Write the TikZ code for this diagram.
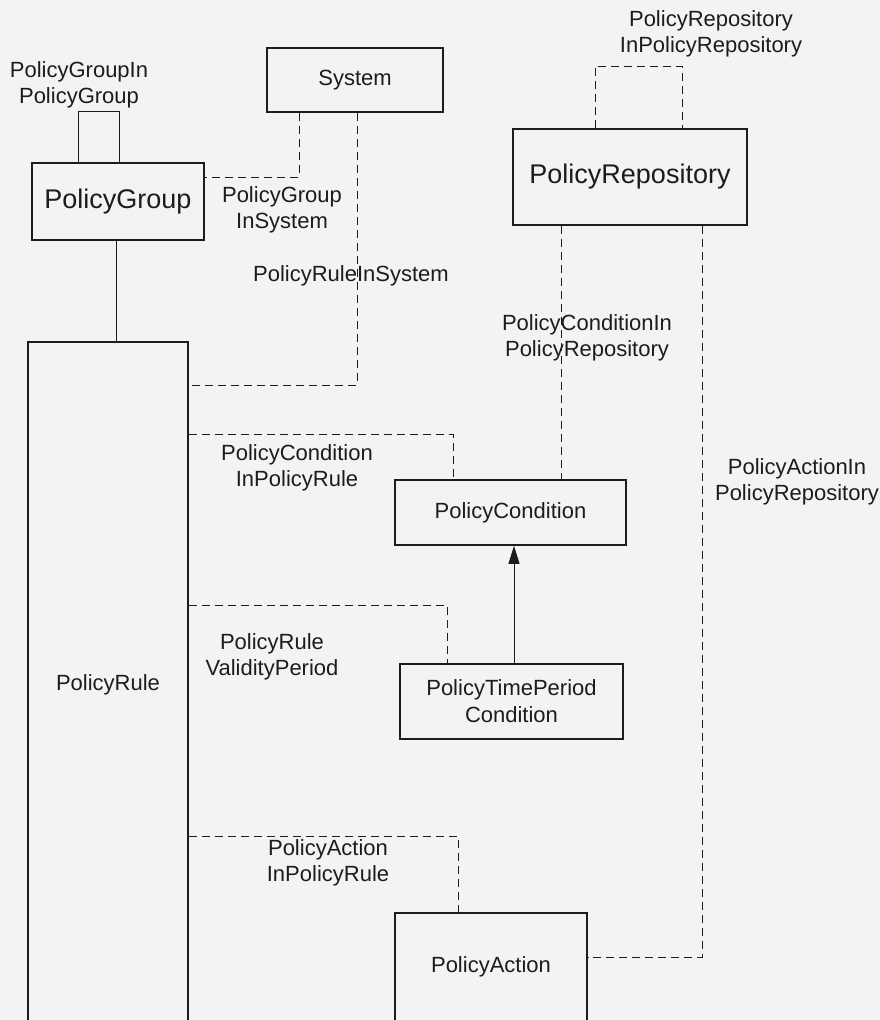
\documentclass[tikz,border=0pt]{standalone}
\usepackage{fontspec}
\setmainfont{Liberation Sans}
\usetikzlibrary{arrows.meta}
\definecolor{paper}{RGB}{242,243,245}
\definecolor{ink}{RGB}{28,28,28}
\begin{document}
\begin{tikzpicture}[x=1pt,y=-1pt,
  cls/.style={draw=ink, line width=1.7pt, inner sep=0pt, text=ink, align=center,
    font=\fontsize{22}{27}\selectfont},
  bigcls/.style={cls, font=\fontsize{27}{32}\selectfont},
  lbl/.style={text=ink, align=center, inner sep=0pt, font=\fontsize{22}{26}\selectfont},
  assoc/.style={draw=ink, line width=0.9pt, dash pattern=on 8pt off 5pt},
  solidlink/.style={draw=ink, line width=0.9pt},
  inherit/.style={draw=ink, line width=0.9pt, -{Triangle[length=18pt,width=11pt]}}]

% page
\fill[paper] (0,0) rectangle (880,1020);
\useasboundingbox (0,0) rectangle (880,1020);
\clip (0,0) rectangle (880,1020);

% classes
\node[cls, minimum width=176pt, minimum height=64pt] (sys) at (355,80) {System};
\node[bigcls, minimum width=172pt, minimum height=77pt] (grp) at (118,201.5) {PolicyGroup};
\node[bigcls, minimum width=234pt, minimum height=96pt] (repo) at (630,177) {PolicyRepository};
\node[cls, minimum width=160pt, minimum height=686pt] (rule) at (108,685) {PolicyRule};
\node[cls, minimum width=231pt, minimum height=65pt] (cond) at (510.5,512.5) {PolicyCondition};
\node[cls, minimum width=223pt, minimum height=75pt] (tpc) at (511.5,701.5) {PolicyTimePeriod\\Condition};
\node[cls, minimum width=192pt, minimum height=108pt] (act) at (491,967) {PolicyAction};

% bend points of the connectors
\coordinate (l1) at (78,111);
\coordinate (l2) at (119,111);
\coordinate (l3) at (595,66);
\coordinate (l4) at (682,66);
\coordinate (g1) at (116,0);
\coordinate (b1) at (299,177);
\coordinate (b2) at (357,385);
\coordinate (b3) at (453,434);
\coordinate (b4) at (447,605);
\coordinate (b5) at (458,836);
\coordinate (b6) at (702,957);
\coordinate (c1) at (561,0);
\coordinate (h1) at (514,0);

% aggregation links
\draw[solidlink] (grp.north -| l1) -- (l1) -- (l2) -- (grp.north -| l2);
\draw[solidlink] (grp.south -| g1) -- (rule.north -| g1);
\draw[assoc] (repo.north -| l3) -- (l3) -- (l4) -- (repo.north -| l4);

% associations
\draw[assoc] (sys.south -| b1) |- (grp.east |- b1);
\draw[assoc] (sys.south -| b2) |- (rule.east |- b2);
\draw[assoc] (repo.south -| c1) -- (cond.north -| c1);
\draw[assoc] (repo.south -| b6) |- (act.east |- b6);
\draw[assoc] (rule.east |- b3) -| (cond.north -| b3);
\draw[assoc] (rule.east |- b4) -| (tpc.north -| b4);
\draw[assoc] (rule.east |- b5) -| (act.north -| b5);

% inheritance
\draw[inherit] (tpc.north -| h1) -- (cond.south -| h1);

% association names
\node[lbl] (n1) at (79,85) {PolicyGroupIn\\PolicyGroup};
\node[lbl] (n2) at (282,209.5) {PolicyGroup\\InSystem};
\node[lbl] (n3) at (351,276) {PolicyRuleInSystem};
\node[lbl] (n4) at (711,34) {PolicyRepository\\InPolicyRepository};
\node[lbl] (n5) at (587,337.5) {PolicyConditionIn\\PolicyRepository};
\node[lbl] (n6) at (297,467.5) {PolicyCondition\\InPolicyRule};
\node[lbl] (n7) at (272,656.5) {PolicyRule\\ValidityPeriod};
\node[lbl] (n8) at (328,863) {PolicyAction\\InPolicyRule};
\node[lbl] (n9) at (797,482) {PolicyActionIn\\PolicyRepository};
\end{tikzpicture}
\end{document}
